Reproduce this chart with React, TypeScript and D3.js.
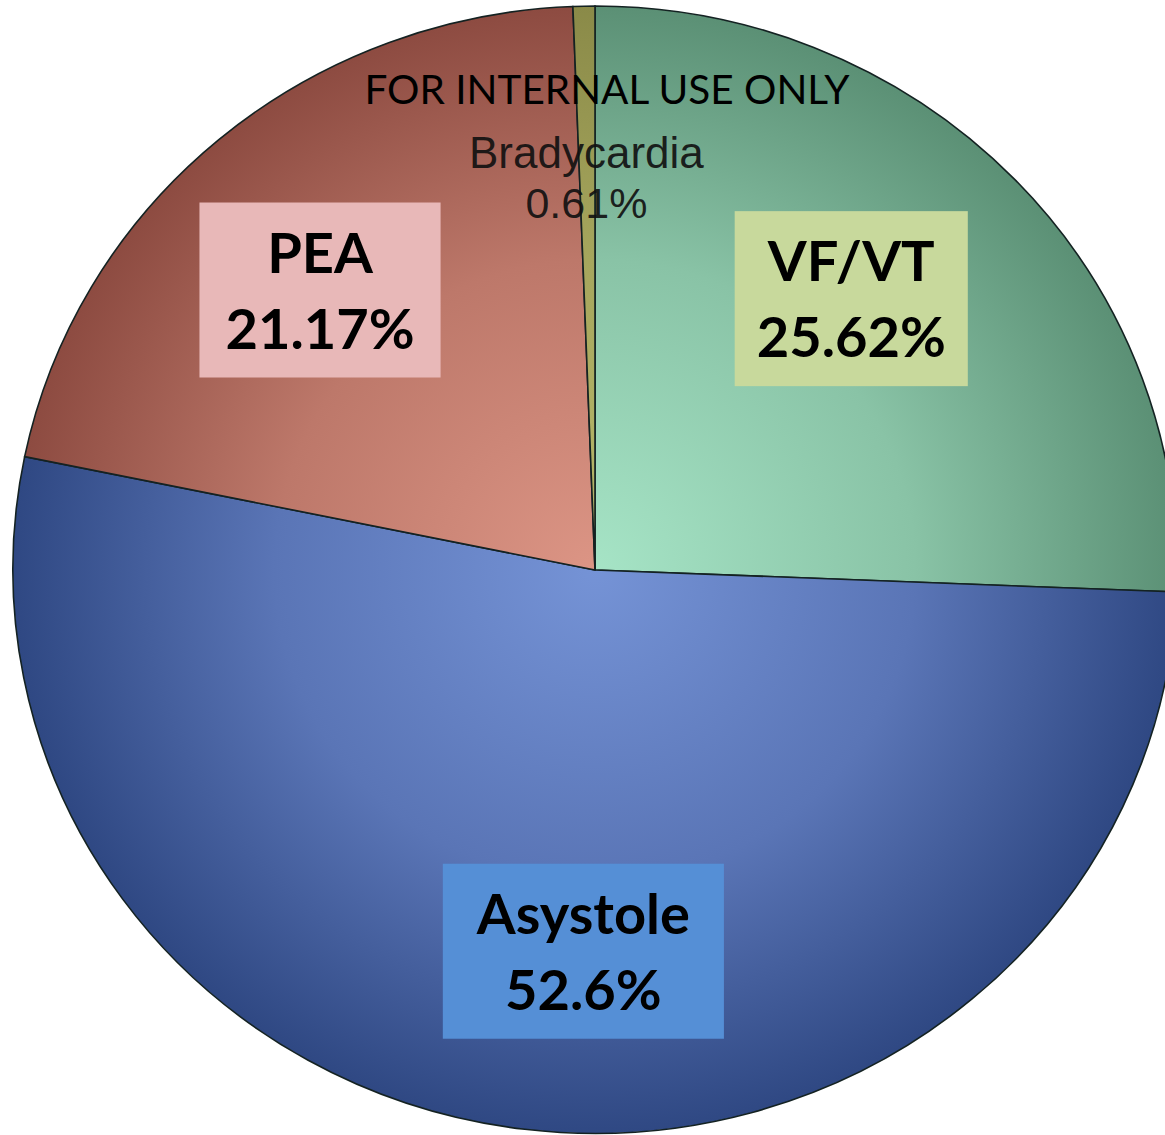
import { useRef, useEffect } from "react";
import * as d3 from "d3";

// slice data, clockwise from 12 o'clock
const categories = ["VF/VT", "Asystole", "PEA", "Bradycardia"];
const values = [25.62, 52.6, 21.17, 0.61];
const valueLabels = ["25.62%", "52.6%", "21.17%", "0.61%"];
const innerColors = ["#a6e4c6", "#7593d6", "#dc9585", "#b8b86a"];
const outerColors = ["#5b9075", "#2f4883", "#8d4b41", "#8a8a48"];
const boxColors = ["#c8d99c", "#558fd6", "#e8b8b8", null];
const watermark = "FOR INTERNAL USE ONLY";

const W = 1165;
const H = 1135;

// hand placement of the data labels (Excel moved them a bit off the centroid)
const labelNudge = [
  [-29, -6],
  [36, 0],
  [-19, 12],
  [-1, -7],
];
const boxPad = [22, 34, 26, 0];

const App = () => {
  const svgRef = useRef<SVGSVGElement>(null);

  useEffect(() => {
    const svg = d3.select(svgRef.current);
    svg.selectAll("*").remove();

    const cx = 595;
    const cy = 570;
    const rx = 582;
    const ry = 564;

    const pie = d3
      .pie<number>()
      .sort(null)
      .value((d) => d);
    const arcs = pie(values);
    const arc = d3.arc<d3.PieArcDatum<number>>().innerRadius(0).outerRadius(1);
    const labelArc = d3
      .arc<d3.PieArcDatum<number>>()
      .innerRadius(0.68)
      .outerRadius(0.68);

    const defs = svg.append("defs");
    categories.forEach((c, i) => {
      const g = defs
        .append("radialGradient")
        .attr("id", "grad" + i)
        .attr("gradientUnits", "userSpaceOnUse")
        .attr("cx", 0)
        .attr("cy", 0)
        .attr("r", 1);
      const mid = d3.interpolateLab(innerColors[i], outerColors[i])(0.38);
      g.append("stop").attr("offset", "0%").attr("stop-color", innerColors[i]);
      g.append("stop").attr("offset", "55%").attr("stop-color", mid);
      g.append("stop").attr("offset", "100%").attr("stop-color", outerColors[i]);
    });

    // pie, drawn on a unit circle and stretched a little
    const pieG = svg
      .append("g")
      .attr("transform", `translate(${cx},${cy}) scale(${rx},${ry})`);
    pieG
      .selectAll("path")
      .data(arcs)
      .join("path")
      .attr("d", arc)
      .attr("fill", (d, i) => `url(#grad${i})`)
      .attr("stroke", "#142222")
      .attr("stroke-width", 1.6)
      .attr("vector-effect", "non-scaling-stroke");

    // labels
    const labelG = svg.append("g").attr("transform", `translate(${cx},${cy})`);
    arcs.forEach((d, i) => {
      const [ux, uy] = labelArc.centroid(d);
      const x = ux * rx + labelNudge[i][0];
      const y = uy * ry + labelNudge[i][1];
      const g = labelG.append("g").attr("transform", `translate(${x},${y})`);
      if (boxColors[i]) {
        const rect = g.append("rect").attr("fill", boxColors[i] as string);
        const t1 = g
          .append("text")
          .attr("text-anchor", "middle")
          .attr("y", -17)
          .attr("font-family", "Lato, 'Open Sans', sans-serif")
          .attr("font-weight", 700)
          .attr("font-size", 56)
          .attr("fill", "#000")
          .text(categories[i]);
        const t2 = g
          .append("text")
          .attr("text-anchor", "middle")
          .attr("y", 59)
          .attr("font-family", "Lato, 'Open Sans', sans-serif")
          .attr("font-weight", 700)
          .attr("font-size", 56)
          .attr("fill", "#000")
          .text(valueLabels[i]);
        const w = Math.max(
          (t1.node() as SVGTextElement).getComputedTextLength(),
          (t2.node() as SVGTextElement).getComputedTextLength()
        );
        const bw = w + boxPad[i] * 2;
        rect
          .attr("x", -bw / 2)
          .attr("y", -87)
          .attr("width", bw)
          .attr("height", 175);
      } else {
        g.append("text")
          .attr("text-anchor", "middle")
          .attr("y", -12)
          .attr("font-family", "'Liberation Sans', Arial, sans-serif")
          .attr("font-size", 44)
          .attr("fill", "#111")
          .attr("fill-opacity", 0.92)
          .text(categories[i]);
        g.append("text")
          .attr("text-anchor", "middle")
          .attr("y", 38)
          .attr("font-family", "'Liberation Sans', Arial, sans-serif")
          .attr("font-size", 43)
          .attr("fill", "#111")
          .attr("fill-opacity", 0.92)
          .text(valueLabels[i]);
      }
    });

    // watermark
    svg
      .append("text")
      .attr("x", 607)
      .attr("y", 104)
      .attr("text-anchor", "middle")
      .attr("font-family", "Lato, 'Open Sans', sans-serif")
      .attr("font-size", 40.5)
      .attr("fill", "#000")
      .text(watermark);
  }, []);

  return (
    <svg
      ref={svgRef}
      width={W}
      height={H}
      style={{ position: "absolute", left: 0, top: 0, background: "#fff" }}
    ></svg>
  );
};

export default App;
